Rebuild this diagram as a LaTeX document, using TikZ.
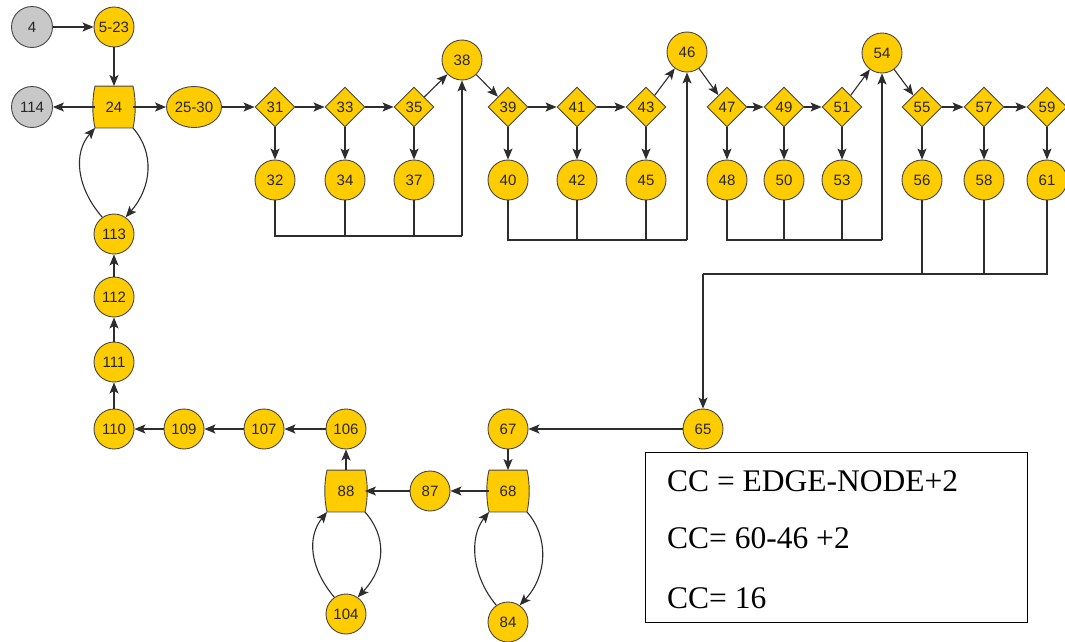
\documentclass[tikz,border=0pt]{standalone}
\usepackage{fontspec}
\newfontfamily\nodefont{Liberation Sans}
\newfontfamily\boxfont{Liberation Serif}
\usetikzlibrary{shapes.geometric,arrows.meta}
\pgfdeclarelayer{background}
\pgfsetlayers{background,main}
\definecolor{gold}{RGB}{255,204,0}
\definecolor{greynode}{RGB}{200,200,200}
\definecolor{edgecol}{RGB}{45,45,45}
\definecolor{outline}{RGB}{70,70,70}
\newcommand\barrelshape[1]{%
  \begin{pgfonlayer}{background}
  \draw[draw=outline,line width=0.9pt,fill=gold]
    (#1.north west) .. controls ([xshift=-3pt,yshift=-12pt]#1.north west) and ([xshift=-3pt,yshift=12pt]#1.south west) .. (#1.south west)
    -- (#1.south east)
    .. controls ([xshift=3pt,yshift=12pt]#1.south east) and ([xshift=3pt,yshift=-12pt]#1.north east) .. (#1.north east)
    -- cycle;
  \end{pgfonlayer}}
\begin{document}
\begin{tikzpicture}[x=1pt,y=-1pt,
  base/.style={draw=outline, line width=0.9pt, inner sep=0pt, font=\nodefont\fontsize{15}{15}\selectfont, text=black!85},
  circ/.style={base, circle, fill=gold, minimum size=40pt},
  gcirc/.style={base, circle, fill=greynode, minimum size=41pt},
  dia/.style={base, diamond, fill=gold, minimum width=40pt, minimum height=40pt},
  ell/.style={base, ellipse, fill=gold, minimum width=55pt, minimum height=41pt},
  loopbox/.style={base, draw=none, rectangle, minimum width=37pt, minimum height=41pt},
  ln/.style={draw=edgecol, line width=1.1pt},
  arr/.style={ln, -{Stealth[length=11pt,width=9pt,inset=2.5pt]}},
  boxtext/.style={font=\boxfont\fontsize{31.5}{32}\selectfont, inner sep=0pt, anchor=base west},
  ccbox/.style={draw=black, line width=1.1pt, minimum width=382pt, minimum height=170pt, anchor=north west, inner sep=0pt},
]
\begin{pgfonlayer}{background}
\fill[white] (0,0) rectangle (1065,641);
\end{pgfonlayer}
\useasboundingbox (0,0) rectangle (1065,641);

% top rows
\node[gcirc] (n4) at (32,27) {4};
\node[circ] (n5) at (114,27) {5-23};
\node[gcirc] (n114) at (32,107) {114};
\node[loopbox] (n24) at (114,107) {24};
\barrelshape{n24}
\node[ell] (n25) at (194,107) {25-30};

\node[dia] (n31) at (275,107) {31};
\node[dia] (n33) at (345,107) {33};
\node[dia] (n35) at (414,107) {35};
\node[circ] (n38) at (462,60) {38};
\node[dia] (n39) at (508,107) {39};
\node[dia] (n41) at (577,107) {41};
\node[dia] (n43) at (646,107) {43};
\node[circ] (n46) at (687,52) {46};
\node[dia] (n47) at (727,107) {47};
\node[dia] (n49) at (784,107) {49};
\node[dia] (n51) at (842,107) {51};
\node[circ] (n54) at (882,53) {54};
\node[dia] (n55) at (922,107) {55};
\node[dia] (n57) at (984,107) {57};
\node[dia] (n59) at (1047,107) {59};

\foreach \n/\x in {32/275,34/345,37/414,40/508,42/577,45/646,48/727,50/784,53/842,56/922,58/984,61/1047}
  \node[circ] (n\n) at (\x,180) {\n};

% left column and bottom
\node[circ] (n113) at (114,234) {113};
\node[circ] (n112) at (114,297) {112};
\node[circ] (n111) at (114,362) {111};
\node[circ] (n110) at (114,429) {110};
\node[circ] (n109) at (184,429) {109};
\node[circ] (n107) at (264,429) {107};
\node[circ] (n106) at (346,429) {106};
\node[loopbox] (n88) at (346,491) {88};
\barrelshape{n88}
\node[circ] (n104) at (346,614) {104};
\node[circ] (n87) at (430,491) {87};
\node[circ] (n67) at (508,429) {67};
\node[loopbox] (n68) at (508,491) {68};
\barrelshape{n68}
\node[circ] (n84) at (508,622) {84};
\node[circ] (n65) at (703,429) {65};

% merge points
\coordinate (m1) at (462,236);
\coordinate (m2) at (687,240);
\coordinate (m3) at (882,240);
\coordinate (m4) at (703,274);

% edges top
\draw[arr] (n4) -- (n5);
\draw[arr] (n5) -- (n24);
\draw[arr] (n24) -- (n114);
\draw[arr] (n24) -- (n25);
\draw[arr] (n25) -- (n31);
\draw[arr] (n31) -- (n33);
\draw[arr] (n33) -- (n35);
\draw[arr] (n35) -- (n38);
\draw[arr] (n38) -- (n39);
\draw[arr] (n39) -- (n41);
\draw[arr] (n41) -- (n43);
\draw[arr] (n43) -- (n46);
\draw[arr] (n46) -- (n47);
\draw[arr] (n47) -- (n49);
\draw[arr] (n49) -- (n51);
\draw[arr] (n51) -- (n54);
\draw[arr] (n54) -- (n55);
\draw[arr] (n55) -- (n57);
\draw[arr] (n57) -- (n59);
\foreach \a/\b in {31/32,33/34,35/37,39/40,41/42,43/45,47/48,49/50,51/53,55/56,57/58,59/61}
  \draw[arr] (n\a) -- (n\b);

% merges
\draw[ln] (n32) |- (m1);
\draw[ln] (n34) -- (n34 |- m1);
\draw[ln] (n37) -- (n37 |- m1);
\draw[arr] (m1) -- (n38);
\draw[ln] (n40) |- (m2);
\draw[ln] (n42) -- (n42 |- m2);
\draw[ln] (n45) -- (n45 |- m2);
\draw[arr] (m2) -- (n46);
\draw[ln] (n48) |- (m3);
\draw[ln] (n50) -- (n50 |- m3);
\draw[ln] (n53) -- (n53 |- m3);
\draw[arr] (m3) -- (n54);
\draw[ln] (n61) |- (m4);
\draw[ln] (n56) -- (n56 |- m4);
\draw[ln] (n58) -- (n58 |- m4);
\draw[arr] (m4) -- (n65);

% lower chain
\draw[arr] (n65) -- (n67);
\draw[arr] (n67) -- (n68);
\draw[arr] (n68) -- (n87);
\draw[arr] (n87) -- (n88);
\draw[arr] (n88) -- (n106);
\draw[arr] (n106) -- (n107);
\draw[arr] (n107) -- (n109);
\draw[arr] (n109) -- (n110);
\draw[arr] (n110) -- (n111);
\draw[arr] (n111) -- (n112);
\draw[arr] (n112) -- (n113);

% loops
\draw[arr] (n24.south east) .. controls +(22,25) and +(26,-30) .. (n113.55);
\draw[arr] (n113.125) .. controls +(-26,-30) and +(-22,25) .. (n24.south west);
\draw[arr] (n68.south east) .. controls +(22,25) and +(28,-30) .. (n84.55);
\draw[arr] (n84.125) .. controls +(-25,-30) and +(-20,25) .. (n68.south west);
\draw[arr] (n88.south east) .. controls +(22,25) and +(28,-30) .. (n104.55);
\draw[arr] (n104.125) .. controls +(-25,-30) and +(-20,25) .. (n88.south west);

% CC box
\node[ccbox] (cc) at (645,452) {};
\node[boxtext] (t1) at (667,491) {CC = EDGE-NODE+2};
\node[boxtext] (t2) at (667,548) {CC= 60-46 +2};
\node[boxtext] (t3) at (667,608) {CC= 16};
\end{tikzpicture}
\end{document}
